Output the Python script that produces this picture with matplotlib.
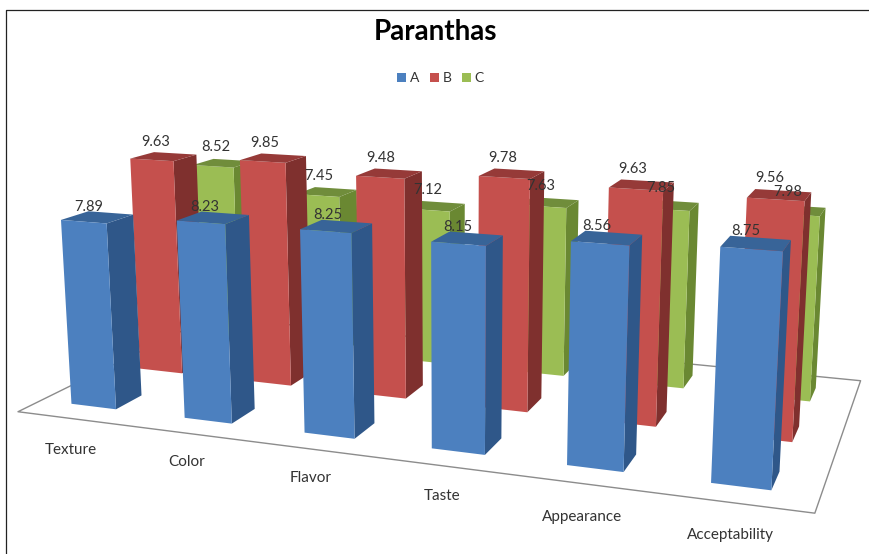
import matplotlib
matplotlib.use("Agg")
import matplotlib.pyplot as plt
from matplotlib.lines import Line2D
from matplotlib.patches import Rectangle
from mpl_toolkits.mplot3d import proj3d
from mpl_toolkits.mplot3d.art3d import Poly3DCollection

plt.rcParams["font.family"] = ["Lato", "DejaVu Sans"]

# ===================== data =====================
categories = ["Texture", "Color", "Flavor", "Taste", "Appearance", "Acceptability"]
values_a = [7.89, 8.23, 8.25, 8.15, 8.56, 8.75]
values_b = [9.63, 9.85, 9.48, 9.78, 9.63, 9.56]
values_c = [8.52, 7.45, 7.12, 7.63, 7.85, 7.98]

# back row first so the front row paints over it
rows = [("C", values_c, 2), ("B", values_b, 1), ("A", values_a, 0)]

# front, side and top shade of each series
face_colors = {"A": "#4c80bf", "B": "#c5504d", "C": "#9bbd54"}
side_colors = {"A": "#2f5789", "B": "#7f302e", "C": "#6a8832"}
top_colors = {"A": "#386498", "B": "#963a38", "C": "#708d3b"}
label_lift = {"A": 0.42, "B": 0.64, "C": 0.74}

W, H = 869, 554
BAR_X, BAR_W = 0.2845, 0.4003
BAR_Y, BAR_D = 0.2956, 0.3684

fig = plt.figure(figsize=(W / 100, H / 100), dpi=100, facecolor="white")
side = 884.4
ax = fig.add_axes([-1.7 / W, -158.8 / H, side / W, side / H], projection="3d")
ax.computed_zorder = False
ax.set_proj_type("persp", focal_length=0.3195)
ax.view_init(elev=12.6017, azim=-70.0659)
ax.set_box_aspect((6, 3.0316, 2.2193))
ax.set_axis_off()

n = len(categories)
ax.set_xlim(0, n)
ax.set_ylim(0, 3)
ax.set_zlim(0, 12)

# floor
floor = Poly3DCollection([[(0, 0, 0), (n, 0, 0), (n, 3, 0), (0, 3, 0)]],
                         facecolors="white", edgecolors="#8c8c8c", linewidths=1.0, zorder=1)
ax.add_collection3d(floor)

z = 2
for name, vals, row in rows:
    y0 = row + BAR_Y
    y1 = y0 + BAR_D
    for i, v in enumerate(vals):
        x0 = i + BAR_X
        x1 = x0 + BAR_W
        front = [(x0, y0, 0), (x1, y0, 0), (x1, y0, v), (x0, y0, v)]
        right = [(x1, y0, 0), (x1, y1, 0), (x1, y1, v), (x1, y0, v)]
        top = [(x0, y0, v), (x1, y0, v), (x1, y1, v), (x0, y1, v)]
        bar = Poly3DCollection([right, top, front],
                               facecolors=[side_colors[name], top_colors[name], face_colors[name]],
                               edgecolors="none", zorder=z)
        ax.add_collection3d(bar)
        z += 1

# data labels sit above everything, placed in 2D from the projected bar top
proj = ax.get_proj()
for name, vals, row in rows:
    for i, v in enumerate(vals):
        lx, ly, _ = proj3d.proj_transform(i + BAR_X + BAR_W / 2 - 0.07, row + BAR_Y + BAR_D / 2,
                                          v + label_lift[name], proj)
        ax.text2D(lx, ly, f"{v:.2f}", transform=ax.transData, fontsize=10.5, color="#333333",
                  ha="center", va="center", zorder=200)

# category labels
label_px = [(71, 449.5), (187, 462.5), (311, 478.5), (442, 495.5), (582, 516.5), (730, 535.5)]
for c, (px, py) in zip(categories, label_px):
    fig.text(px / W, 1 - py / H, c, fontsize=11, color="#333333", ha="center", va="center")

fig.text(436 / W, 1 - 32 / H, "Paranthas", fontsize=20, fontweight="bold", ha="center",
         va="center", color="black")

# legend
for name, sq, tx in [("A", 397, 410), ("B", 430, 443), ("C", 462, 474)]:
    fig.add_artist(Rectangle((sq / W, 1 - 82 / H), 9 / W, 9 / H, transform=fig.transFigure,
                             facecolor=face_colors[name], edgecolor="none"))
    fig.text(tx / W, 1 - 77.5 / H, name, fontsize=10, va="center", color="#333333")

# screenshot frame
fig.add_artist(Line2D([6 / W, 6 / W, 868 / W], [0, 1 - 10 / H, 1 - 10 / H], color="#222222", lw=0.9))

fig.savefig("out.png", dpi=100)
